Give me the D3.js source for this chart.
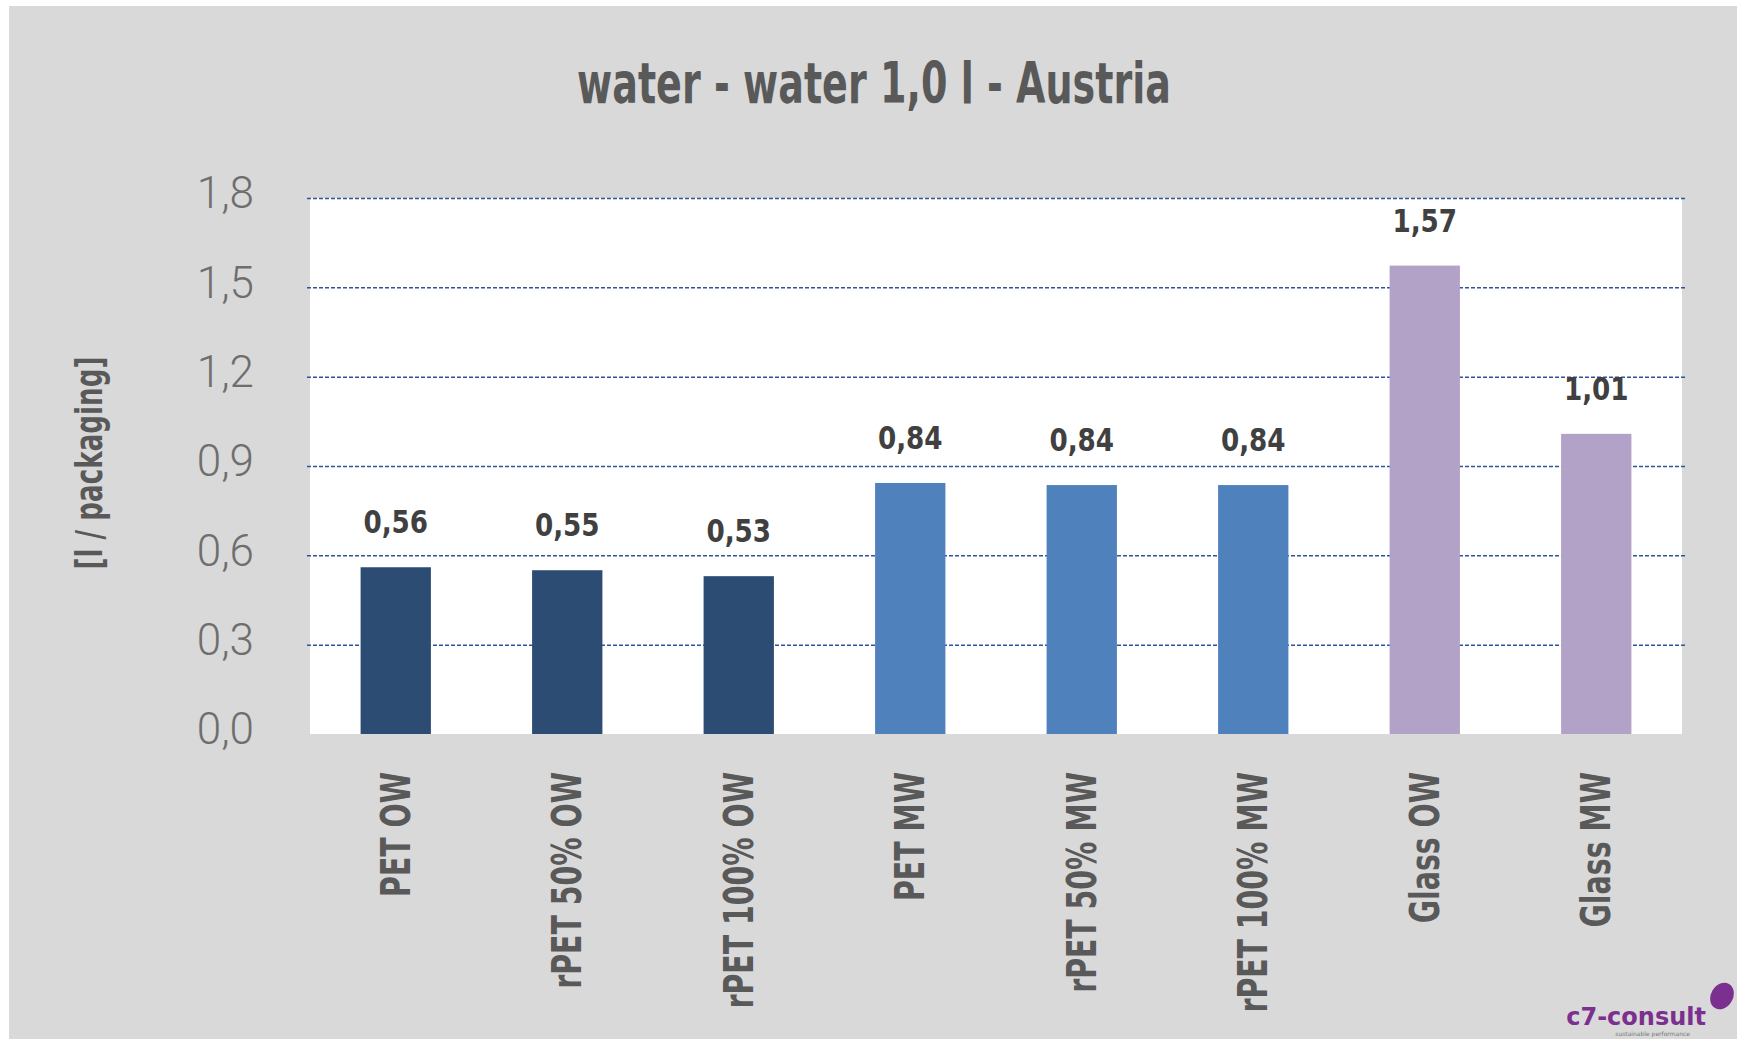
<!DOCTYPE html>
<html lang="en">
<head>
<meta charset="UTF-8">
<title>water - water 1,0 l - Austria</title>
<script src="https://d3js.org/d3.v7.min.js"></script>
<style>
    body { margin: 0; background: #fff; }
    svg { display: block; }
    .narrow { font-family: "DejaVu Sans", sans-serif; }
    .grid line { stroke: #2f5597; stroke-width: 1.5; stroke-dasharray: 4 2; }
    .grid path { display: none; }
</style>
</head>
<body>
<svg id="chart" width="1737" height="1039"></svg>
<script>
    const categories = ["PET OW", "rPET 50% OW", "rPET 100% OW", "PET MW", "rPET 50% MW", "rPET 100% MW", "Glass OW", "Glass MW"];
    const values = [0.56, 0.55, 0.53, 0.843, 0.836, 0.836, 1.573, 1.008];
    const groups = ["OW", "OW", "OW", "MW", "MW", "MW", "glass", "glass"];
    const yTicks = [0, 0.3, 0.6, 0.9, 1.2, 1.5, 1.8];

    const colors = { OW: "#2c4c73", MW: "#4f81bd", glass: "#b3a2c7" };
    const comma = v => d3.format(".1f")(v).replace(".", ",");
    const comma2 = v => d3.format(".2f")(v).replace(".", ",");

    const svg = d3.select("#chart");
    const plotLeft = 310, plotRight = 1682, plotTop = 198, plotBottom = 734;

    svg.append("rect").attr("x", 9).attr("y", 6).attr("width", 1737 - 9).attr("height", 1039 - 6).attr("fill", "#d9d9d9");

    const x = d3.scaleBand().domain(categories).range([plotLeft, plotRight]).paddingInner(0.59).paddingOuter(0.295);
    const y = d3.scaleLinear().domain([0, 1.8]).range([plotBottom, plotTop]);

    // plot area
    svg.append("rect").attr("x", plotLeft).attr("y", plotTop).attr("width", plotRight - plotLeft).attr("height", plotBottom - plotTop).attr("fill", "#fff");

    // gridlines
    svg.append("g")
        .attr("class", "grid")
        .attr("transform", `translate(${plotLeft - 3},0)`)
        .call(d3.axisRight(y).tickValues(yTicks.filter(d => d > 0)).tickSize(plotRight - plotLeft + 6).tickFormat(""));

    // y tick labels
    svg.append("g")
        .selectAll("text")
        .data(yTicks)
        .join("text")
        .attr("x", 254)
        .attr("y", d => y(d) - 5)
        .attr("dy", "0.35em")
        .attr("text-anchor", "end")
        .attr("font-family", "Roboto, sans-serif")
        .attr("font-weight", 300)
        .attr("font-size", 44)
        .attr("fill", "#6e6e6e")
        .text(comma);

    // bars
    svg.append("g")
        .selectAll("rect")
        .data(values)
        .join("rect")
        .attr("x", (d, i) => x(categories[i]))
        .attr("y", d => y(d))
        .attr("width", x.bandwidth())
        .attr("height", d => plotBottom - y(d))
        .attr("fill", (d, i) => colors[groups[i]]);

    // value labels
    svg.append("g")
        .selectAll("text")
        .data(values)
        .join("text")
        .attr("class", "narrow")
        .attr("transform", (d, i) => `translate(${x(categories[i]) + x.bandwidth() / 2},${y(d) - 34}) scale(0.82,1)`)
        .attr("text-anchor", "middle")
        .attr("font-size", 32)
        .attr("font-weight", "bold")
        .attr("fill", "#404040")
        .text(comma2);

    // category labels
    svg.append("g")
        .selectAll("text")
        .data(categories)
        .join("text")
        .attr("class", "narrow")
        .attr("transform", d => `translate(${x(d) + x.bandwidth() / 2 + 14},772) rotate(-90) scale(0.71,1)`)
        .attr("text-anchor", "end")
        .attr("font-size", 40)
        .attr("font-weight", "bold")
        .attr("fill", "#595959")
        .text(d => d);

    // y axis title
    svg.append("text")
        .attr("class", "narrow")
        .attr("transform", "translate(102,463) rotate(-90) scale(0.69,1)")
        .attr("text-anchor", "middle")
        .attr("font-size", 38)
        .attr("font-weight", "bold")
        .attr("fill", "#595959")
        .text("[l / packaging]");

    // title
    svg.append("text")
        .attr("class", "narrow")
        .attr("transform", "translate(874,103) scale(0.68,1)")
        .attr("text-anchor", "middle")
        .attr("font-size", 56)
        .attr("font-weight", "bold")
        .attr("fill", "#595959")
        .text("water - water 1,0 l - Austria");

    // logo
    svg.append("text")
        .attr("x", 1706)
        .attr("y", 1025)
        .attr("text-anchor", "end")
        .attr("font-family", "DejaVu Sans, sans-serif")
        .attr("font-weight", "bold")
        .attr("font-size", 24)
        .attr("fill", "#7b2f8f")
        .text("c7-consult");
    svg.append("text")
        .attr("x", 1690)
        .attr("y", 1036)
        .attr("text-anchor", "end")
        .attr("font-family", "DejaVu Sans, sans-serif")
        .attr("font-size", 6)
        .attr("fill", "#777")
        .text("sustainable performance");
    svg.append("ellipse")
        .attr("cx", 1722).attr("cy", 996).attr("rx", 11).attr("ry", 14)
        .attr("transform", "rotate(30,1722,996)")
        .attr("fill", "#7b2f8f");
</script>
</body>
</html>
